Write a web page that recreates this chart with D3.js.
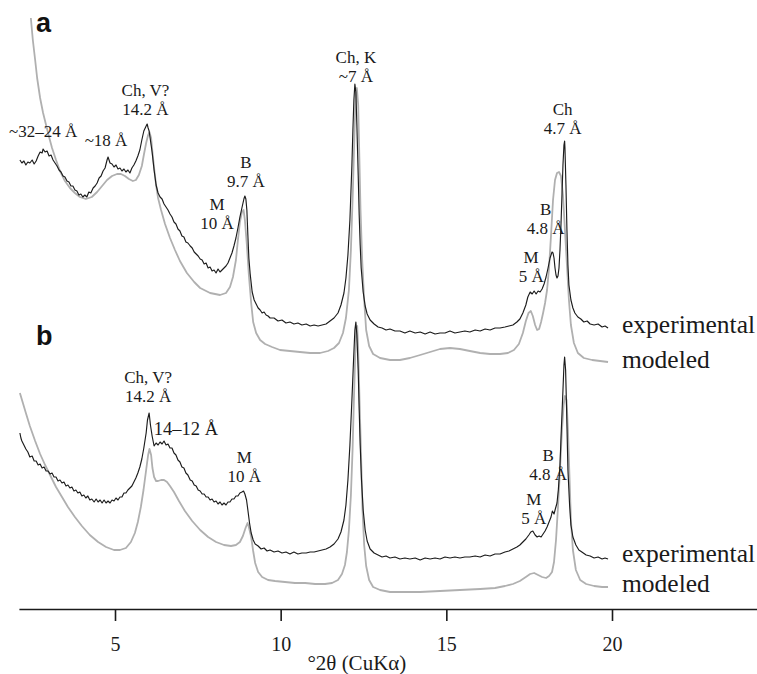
<!DOCTYPE html>
<html><head><meta charset="utf-8">
<script src="https://cdn.jsdelivr.net/npm/d3@7"></script>
<style>body{margin:0;background:#fff} svg{display:block} text{font-family:"Liberation Serif","Times New Roman",serif}</style>
</head><body>
<svg id="c" width="757" height="674"></svg>
<script>
// ---- data: [°2θ, intensity (arbitrary, stacked offset)] ----
const expA = [[2.13,449],[2.19,446],[2.25,448],[2.31,444],[2.37,447],[2.43,446],[2.50,449],[2.56,445],[2.62,448],[2.68,453],[2.74,457],[2.80,456],[2.83,460],[2.89,457],[2.95,458],[3.01,453],[3.07,454],[3.13,449],[3.19,446],[3.25,443],[3.31,439],[3.37,437],[3.43,433],[3.49,432],[3.55,428],[3.61,427],[3.67,423],[3.73,423],[3.79,419],[3.85,418],[3.91,414],[3.97,415],[4.03,412],[4.09,414],[4.15,412],[4.21,417],[4.27,416],[4.34,421],[4.40,423],[4.46,426],[4.52,431],[4.58,433],[4.64,438],[4.70,441],[4.76,449],[4.79,452],[4.85,446],[4.91,445],[4.97,442],[5.03,444],[5.09,440],[5.15,441],[5.21,438],[5.27,440],[5.33,437],[5.39,439],[5.45,436],[5.51,441],[5.57,444],[5.63,448],[5.69,453],[5.75,459],[5.81,469],[5.87,478],[5.94,483],[5.97,485],[6.00,481],[6.03,478],[6.06,471],[6.12,457],[6.18,439],[6.24,424],[6.30,416],[6.36,412],[6.42,410],[6.48,405],[6.54,402],[6.60,399],[6.66,395],[6.72,392],[6.78,387],[6.84,385],[6.90,380],[6.96,378],[7.02,373],[7.08,372],[7.14,367],[7.20,366],[7.27,363],[7.33,361],[7.39,357],[7.45,355],[7.51,353],[7.57,350],[7.63,349],[7.69,345],[7.75,346],[7.81,341],[7.87,342],[7.93,338],[7.99,339],[8.05,336],[8.11,340],[8.17,337],[8.23,339],[8.29,341],[8.35,343],[8.41,346],[8.47,351],[8.53,356],[8.59,363],[8.65,371],[8.71,381],[8.77,392],[8.83,401],[8.89,410],[8.92,413],[8.95,410],[8.98,399],[9.01,374],[9.04,351],[9.08,335],[9.14,317],[9.20,309],[9.26,305],[9.32,301],[9.38,299],[9.44,296],[9.50,297],[9.56,294],[9.62,293],[9.68,291],[9.80,291],[9.92,288],[10.04,289],[10.16,286],[10.28,287],[10.40,285],[10.52,286],[10.64,284],[10.77,285],[10.89,283],[11.01,284],[11.13,283],[11.25,284],[11.37,285],[11.49,288],[11.61,291],[11.73,296],[11.82,304],[11.91,316],[11.97,331],[12.03,354],[12.09,389],[12.15,444],[12.18,479],[12.21,509],[12.24,525],[12.27,517],[12.30,484],[12.34,434],[12.37,394],[12.40,364],[12.43,341],[12.49,317],[12.55,303],[12.61,295],[12.70,289],[12.82,285],[12.94,282],[13.06,281],[13.18,279],[13.30,280],[13.45,278],[13.60,278],[13.75,276],[13.90,278],[14.06,276],[14.21,277],[14.36,275],[14.51,277],[14.66,275],[14.81,276],[14.96,276],[15.11,278],[15.26,276],[15.41,277],[15.56,278],[15.71,277],[15.87,279],[16.02,278],[16.17,280],[16.32,279],[16.47,281],[16.62,281],[16.77,282],[16.89,283],[17.01,284],[17.13,287],[17.22,290],[17.31,296],[17.40,304],[17.46,312],[17.53,317],[17.59,315],[17.65,318],[17.71,315],[17.77,318],[17.83,317],[17.89,320],[17.95,325],[18.01,332],[18.07,341],[18.13,351],[18.19,357],[18.22,356],[18.25,351],[18.28,341],[18.31,334],[18.34,331],[18.37,333],[18.40,341],[18.43,359],[18.46,384],[18.49,414],[18.52,444],[18.55,464],[18.57,468],[18.58,461],[18.61,424],[18.64,379],[18.67,344],[18.70,324],[18.76,309],[18.82,301],[18.88,296],[18.97,292],[19.06,290],[19.15,287],[19.25,288],[19.34,285],[19.46,284],[19.58,285],[19.70,282],[19.79,283],[19.88,281]];

const modA = [[2.46,591],[2.52,569],[2.59,549],[2.65,531],[2.74,511],[2.83,496],[2.92,484],[3.01,472],[3.10,461],[3.22,449],[3.34,438],[3.49,428],[3.64,421],[3.79,416],[3.94,412],[4.12,410],[4.30,412],[4.46,417],[4.61,423],[4.76,429],[4.91,433],[5.06,435],[5.18,435],[5.30,433],[5.42,430],[5.54,428],[5.63,429],[5.72,434],[5.81,443],[5.87,454],[5.94,466],[6.00,474],[6.04,477],[6.09,471],[6.13,457],[6.18,441],[6.24,424],[6.30,411],[6.39,399],[6.51,385],[6.66,371],[6.81,359],[6.96,348],[7.17,336],[7.39,327],[7.57,321],[7.87,316],[8.17,314],[8.35,316],[8.47,322],[8.56,332],[8.65,349],[8.71,369],[8.77,387],[8.83,397],[8.88,399],[8.92,389],[8.98,364],[9.04,334],[9.11,306],[9.17,287],[9.26,276],[9.38,269],[9.53,265],[9.74,262],[9.98,259],[10.28,258],[10.58,257],[10.89,256],[11.19,256],[11.43,258],[11.61,261],[11.76,266],[11.88,276],[11.97,291],[12.06,319],[12.12,359],[12.18,419],[12.23,479],[12.27,519],[12.30,521],[12.34,504],[12.37,459],[12.41,399],[12.46,349],[12.52,309],[12.58,279],[12.67,263],[12.79,255],[13.00,251],[13.30,249],[13.60,249],[13.90,251],[14.21,254],[14.51,257],[14.81,260],[15.11,261],[15.41,260],[15.71,258],[16.02,256],[16.32,255],[16.62,255],[16.86,256],[17.04,259],[17.19,265],[17.31,276],[17.40,288],[17.48,296],[17.55,298],[17.61,293],[17.68,284],[17.74,279],[17.80,280],[17.86,287],[17.92,296],[17.98,306],[18.04,319],[18.10,341],[18.16,374],[18.22,409],[18.28,429],[18.34,436],[18.40,437],[18.46,433],[18.52,414],[18.58,379],[18.64,344],[18.70,309],[18.76,284],[18.85,266],[18.97,256],[19.15,251],[19.40,249],[19.64,248],[19.88,247]];

const expB = [[2.13,176],[2.16,171],[2.19,168],[2.25,164],[2.31,160],[2.37,157],[2.43,152],[2.50,153],[2.56,148],[2.62,148],[2.68,144],[2.74,145],[2.80,141],[2.86,142],[2.92,138],[2.98,138],[3.04,135],[3.10,136],[3.16,132],[3.22,132],[3.28,128],[3.34,129],[3.40,126],[3.46,127],[3.52,123],[3.58,124],[3.64,121],[3.70,122],[3.76,118],[3.82,119],[3.88,116],[3.94,117],[4.00,113],[4.06,114],[4.12,111],[4.18,113],[4.24,109],[4.30,110],[4.37,107],[4.43,110],[4.49,107],[4.55,109],[4.61,106],[4.67,109],[4.73,106],[4.79,108],[4.85,106],[4.91,109],[4.97,108],[5.03,111],[5.09,109],[5.15,112],[5.21,112],[5.27,116],[5.33,116],[5.39,119],[5.45,121],[5.51,123],[5.57,127],[5.63,131],[5.69,136],[5.75,142],[5.81,150],[5.87,161],[5.94,176],[5.98,189],[6.03,196],[6.07,184],[6.12,173],[6.18,163],[6.24,166],[6.30,164],[6.36,167],[6.42,165],[6.48,168],[6.54,164],[6.60,165],[6.66,161],[6.72,161],[6.78,156],[6.84,154],[6.90,149],[6.96,147],[7.02,142],[7.08,141],[7.14,136],[7.20,134],[7.27,129],[7.33,128],[7.39,124],[7.45,123],[7.51,119],[7.57,118],[7.63,115],[7.69,115],[7.75,112],[7.81,112],[7.87,109],[7.93,110],[7.99,107],[8.05,108],[8.11,105],[8.17,107],[8.23,104],[8.29,106],[8.35,104],[8.41,107],[8.47,107],[8.53,110],[8.59,110],[8.65,113],[8.71,113],[8.77,116],[8.83,117],[8.88,118],[8.92,115],[8.97,109],[9.01,99],[9.06,86],[9.11,76],[9.17,69],[9.23,65],[9.32,63],[9.41,60],[9.50,61],[9.59,58],[9.68,59],[9.80,57],[9.92,58],[10.04,56],[10.16,57],[10.28,55],[10.40,57],[10.52,55],[10.64,56],[10.77,56],[10.89,57],[11.01,57],[11.13,58],[11.25,59],[11.37,60],[11.49,62],[11.61,65],[11.73,70],[11.82,77],[11.91,89],[11.97,104],[12.03,129],[12.09,164],[12.15,209],[12.20,249],[12.24,279],[12.27,287],[12.30,274],[12.34,239],[12.37,199],[12.40,164],[12.44,129],[12.49,99],[12.55,79],[12.61,68],[12.70,60],[12.82,56],[12.94,54],[13.06,52],[13.18,53],[13.30,51],[13.45,52],[13.60,50],[13.75,51],[13.90,50],[14.06,51],[14.21,49],[14.36,51],[14.51,50],[14.66,51],[14.81,50],[14.96,52],[15.11,51],[15.26,52],[15.41,51],[15.56,52],[15.71,52],[15.87,53],[16.02,52],[16.17,54],[16.32,53],[16.47,55],[16.62,55],[16.77,57],[16.89,58],[17.01,60],[17.13,62],[17.22,64],[17.31,67],[17.40,70],[17.49,74],[17.55,77],[17.61,78],[17.68,74],[17.74,72],[17.80,73],[17.86,72],[17.92,75],[17.98,78],[18.04,82],[18.10,87],[18.16,92],[18.20,98],[18.25,95],[18.29,100],[18.34,106],[18.38,119],[18.43,144],[18.47,179],[18.52,219],[18.55,244],[18.57,252],[18.60,239],[18.63,199],[18.67,139],[18.72,104],[18.76,84],[18.82,72],[18.91,64],[19.00,59],[19.09,57],[19.22,54],[19.34,53],[19.46,51],[19.58,52],[19.70,50],[19.79,51],[19.88,50]];

const modB = [[2.13,216],[2.22,206],[2.31,196],[2.43,183],[2.59,168],[2.74,155],[2.89,144],[3.04,134],[3.22,122],[3.40,112],[3.58,102],[3.79,92],[4.00,83],[4.24,74],[4.49,67],[4.73,62],[4.97,59],[5.15,59],[5.33,61],[5.48,67],[5.60,76],[5.69,87],[5.78,102],[5.86,119],[5.94,139],[6.00,154],[6.04,160],[6.09,154],[6.13,141],[6.18,132],[6.24,128],[6.30,128],[6.39,129],[6.48,129],[6.57,127],[6.66,123],[6.78,117],[6.93,108],[7.11,98],[7.33,88],[7.57,79],[7.81,72],[8.05,67],[8.29,64],[8.50,63],[8.65,64],[8.77,67],[8.86,73],[8.94,81],[9.00,86],[9.04,82],[9.11,72],[9.17,58],[9.23,46],[9.32,37],[9.44,32],[9.62,29],[9.83,28],[10.13,27],[10.43,26],[10.74,26],[11.04,25],[11.34,25],[11.55,26],[11.73,29],[11.85,35],[11.94,44],[12.00,57],[12.06,79],[12.12,114],[12.17,159],[12.21,209],[12.25,254],[12.28,281],[12.31,283],[12.34,259],[12.38,209],[12.43,149],[12.47,99],[12.52,64],[12.58,43],[12.67,29],[12.79,22],[13.00,19],[13.30,17],[13.60,17],[14.21,17],[14.81,18],[15.41,19],[16.02,20],[16.47,21],[16.77,23],[17.01,25],[17.22,28],[17.40,32],[17.53,35],[17.65,36],[17.77,34],[17.89,32],[18.01,31],[18.10,33],[18.19,37],[18.25,47],[18.31,69],[18.37,102],[18.43,139],[18.49,179],[18.54,204],[18.58,213],[18.63,209],[18.67,179],[18.72,129],[18.76,89],[18.82,59],[18.91,39],[19.04,29],[19.22,25],[19.46,23],[19.70,22],[19.88,22]];

// peak annotations: [label lines, °2θ of centre, intensity of first baseline]
const annotA = [
  [["~32–24 Å"], 2.83, 472],
  [["~18 Å"], 4.73, 463],
  [["Ch, V?", "14.2 Å"], 5.92, 513],
  [["B", "9.7 Å"], 8.95, 441],
  [["M", "10 Å"], 8.08, 399],
  [["Ch, K", "~7 Å"], 12.27, 546],
  [["Ch", "4.7 Å"], 18.51, 494],
  [["B", "4.8 Å"], 18.00, 394],
  [["M", "5 Å"], 17.56, 346]
];
const annotB = [
  [["Ch, V?", "14.2 Å"], 6.00, 226],
  [["M", "10 Å"], 8.90, 146],
  [["B", "4.8 Å"], 18.07, 148],
  [["M", "5 Å"], 17.64, 104]
];
const annotWide = [["14–12 Å"], 7.14, 174];
const seriesNames = ["experimental", "modeled"];
const legendY = [[276, 241], [47, 17]]; // baseline intensities of series labels in panel a and b
const panelLabels = [["a", 577], ["b", 264]];
const xTicks = [5, 10, 15, 20];
const xTitle = "°2θ (CuKα)";

// ---- drawing ----
const svg = d3.select('#c');
const x = d3.scaleLinear().domain([5, 20]).range([115, 612]);
const y = d3.scaleLinear().domain([0, 600]).range([609, 9]);
const line = d3.line().x(d => x(d[0])).y(d => y(d[1]));
const serif = '"Liberation Serif","Times New Roman",serif';
const ink = "#1a1a1a";

const gray = "#b0b0b0";
[modA, modB].forEach(s => svg.append('path').attr('d', line(s))
  .attr('fill', 'none').attr('stroke', gray).attr('stroke-width', 1.8).attr('stroke-linejoin', 'round'));
[expA, expB].forEach(s => svg.append('path').attr('d', line(s))
  .attr('fill', 'none').attr('stroke', '#1c1c1c').attr('stroke-width', 1.15).attr('stroke-linejoin', 'round'));

function annot(list, size) {
  list.forEach(([lines, tt, inten]) => {
    const t = svg.append('text').attr('text-anchor', 'middle')
      .style('font-family', serif).attr('font-size', size).attr('fill', ink);
    lines.forEach((l, i) => t.append('tspan').attr('x', x(tt)).attr('y', y(inten) + i * 18.5).text(l));
  });
}
annot(annotA, 17);
annot(annotB, 17);
annot([annotWide], 18.5);

legendY.forEach(pair => pair.forEach((v, i) => {
  svg.append('text').attr('x', 622).attr('y', y(v)).style('font-family', serif)
    .attr('font-size', 25.5).attr('fill', ink).text(seriesNames[i]);
}));

panelLabels.forEach(([l, v]) => svg.append('text').attr('x', 36).attr('y', y(v))
  .style('font-family', "'Liberation Sans',Arial,sans-serif").attr('font-weight', 'bold')
  .attr('font-size', 27).attr('fill', '#111').text(l));

// axis
const xa = x.copy().domain([2.1, 24.4]).range([x(2.1), x(24.4)]);
const g = svg.append('g').attr('transform', `translate(0,${y(0)})`)
  .call(d3.axisBottom(xa).tickValues(xTicks).tickSize(12).tickSizeOuter(0).tickPadding(16));
g.select('.domain').attr('stroke', ink).attr('stroke-width', 1.6);
g.selectAll('.tick line').attr('stroke', ink).attr('stroke-width', 1.6);
g.selectAll('.tick text').style('font-family', serif).attr('font-size', 20).attr('fill', ink);
svg.append('text').attr('x', x(12.3)).attr('y', 670).attr('text-anchor', 'middle')
  .style('font-family', serif).attr('font-size', 21).attr('fill', ink).text(xTitle);
</script>
</body></html>
